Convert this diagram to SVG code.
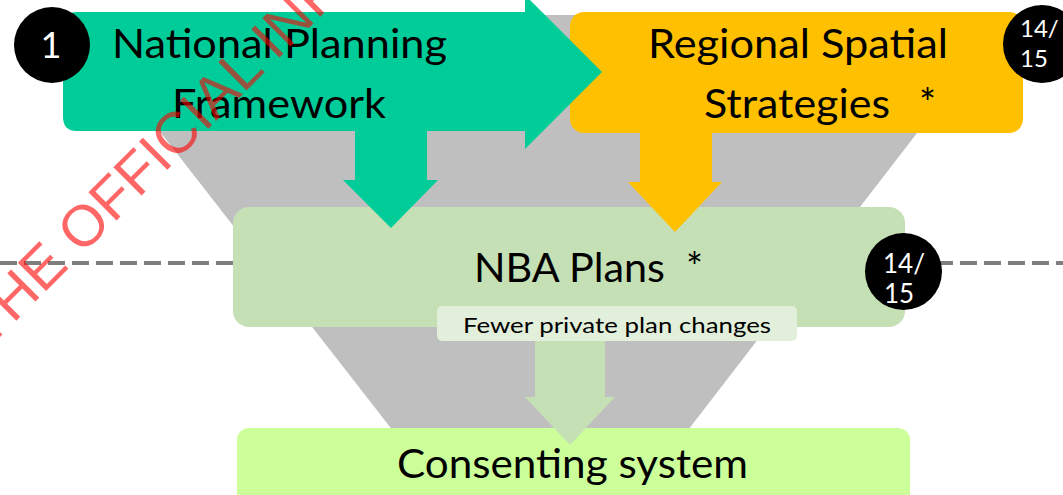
<svg xmlns="http://www.w3.org/2000/svg" width="1063" height="495" viewBox="0 0 1063 495">
<style>
.big{font-family:Lato,"Open Sans","Liberation Sans",sans-serif;font-size:40px;fill:#000}
.small{font-family:Lato,"Open Sans","Liberation Sans",sans-serif;font-size:22px;fill:#000}
.badge{font-family:Lato,"Liberation Sans",sans-serif;fill:#fff}
.wm{font-family:"Liberation Sans",Arial,sans-serif;font-size:58px;fill:#ff0000;fill-opacity:0.6}
</style>
<rect width="1063" height="495" fill="#fff"/>
<g id="funnel">
<polygon points="69,15 1008,15 638,495 443,495" fill="#bfbfbf"/>
</g>
<g id="connectors">
<line x1="0" y1="263" x2="1063" y2="263" stroke="#7f7f7f" stroke-width="4" stroke-dasharray="17 7"/>
</g>
<g id="rss">
<rect x="570" y="12" width="453" height="121" rx="14" fill="#ffc000"/>
<text class="big" x="648" y="58" textLength="300" lengthAdjust="spacingAndGlyphs">Regional Spatial</text>
<text class="big" x="704" y="118" textLength="186" lengthAdjust="spacingAndGlyphs">Strategies</text>
<text class="big" x="919" y="118">*</text>
</g>
<g id="nba">
<rect x="233" y="207" width="672" height="120" rx="16" fill="#c5e0b4"/>
<text class="big" x="474" y="282" textLength="191" lengthAdjust="spacingAndGlyphs">NBA Plans</text>
<text class="big" x="686" y="282">*</text>
</g>
<g id="arrows">
<polygon points="355,125 427,125 427,180 438,180 391,228 343,180 355,180" fill="#00cc99"/>
<polygon points="640,125 712,125 712,182 722,182 675,232 628,182 640,182" fill="#ffc000"/>
</g>
<g id="npf">
<path d="M77,12 H525 V-5 L602,72 L525,149 V131 H77 Q63,131 63,117 V26 Q63,12 77,12 Z" fill="#00cc99"/>
<text class="big" x="112" y="58" textLength="335" lengthAdjust="spacingAndGlyphs">National Planning</text>
<text class="big" x="172" y="118" textLength="214" lengthAdjust="spacingAndGlyphs">Framework</text>
</g>
<g id="consenting">
<rect x="237" y="428" width="673" height="90" rx="12" fill="#ccff99"/>
<text class="big" x="397" y="478" textLength="351" lengthAdjust="spacingAndGlyphs">Consenting system</text>
</g>
<g id="fewer">
<polygon points="535,335 605,335 605,397 615,397 570,445 525,397 535,397" fill="#c5e0b4"/>
<rect x="437" y="306" width="360" height="35" rx="5" fill="#e2efda"/>
<text class="small" x="463" y="333" textLength="308" lengthAdjust="spacingAndGlyphs">Fewer private plan changes</text>
</g>
<g id="badge1">
<circle cx="52" cy="45" r="38" fill="#000"/>
<text class="badge" x="51" y="58" font-size="36" text-anchor="middle">1</text>
</g>
<g id="badge2">
<circle cx="1042" cy="44" r="39" fill="#000"/>
<text class="badge" x="1020" y="37" font-size="24">14/</text>
<text class="badge" x="1020" y="67" font-size="24">15</text>
</g>
<g id="badge3">
<circle cx="903.5" cy="271.5" r="38.5" fill="#000"/>
<text class="badge" x="883" y="273" font-size="26">14/</text>
<text class="badge" x="884" y="303" font-size="26">15</text>
</g>
<g id="watermark">
<text class="wm" transform="translate(-12,349) rotate(-45)">THE OFFICIAL INFORMATION ACT</text>
</g>
</svg>
